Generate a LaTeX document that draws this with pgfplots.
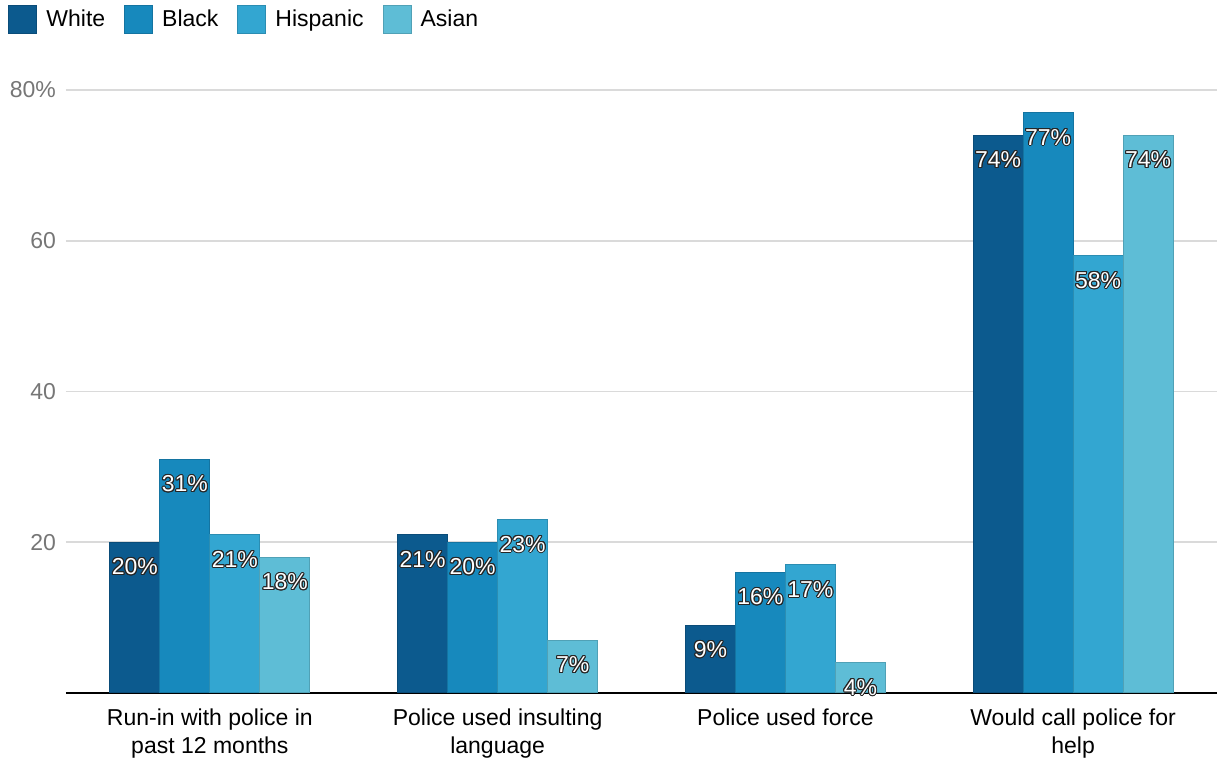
\documentclass[border=0pt]{standalone}
\usepackage{pgfplots}
\pgfplotsset{compat=1.18}
\usepackage{fontspec}
\setmainfont{Liberation Sans}
\usepackage{contour}
\contourlength{0.5pt}
\contournumber{16}

\definecolor{cWhite}{RGB}{12,90,142}
\definecolor{cBlack}{RGB}{23,137,189}
\definecolor{cHisp}{RGB}{51,166,209}
\definecolor{cAsian}{RGB}{94,189,214}
\definecolor{tickgray}{RGB}{118,118,118}
\definecolor{gridgray}{RGB}{218,218,218}

\newcommand{\chartfont}{\fontsize{11.5}{14}\selectfont}

\begin{document}
\begin{tikzpicture}
\begin{axis}[
  name=main,
  at={(0,0)}, anchor=south west,
  scale only axis,
  width=575.5pt, height=301.5pt,
  xmin=-0.5, xmax=3.5, ymin=0, ymax=80,
  ybar=0pt, bar width=25pt,
  clip=false,
  axis x line*=bottom, axis y line*=left,
  x axis line style={black, line width=0.9pt, -},
  y axis line style={draw=none},
  major tick length=0pt,
  ytick={20,40,60,80}, yticklabels={20,40,60,80\%},
  ymajorgrids, grid style={gridgray, line width=0.8pt},
  xtick={0,1,2,3},
  xticklabels={Run-in with police in\\past 12 months,
               Police used insulting\\language,
               Police used force,
               Would call police for\\help},
  xticklabel style={align=center, font=\chartfont, text=black, yshift=-4.5pt},
  yticklabel style={font=\chartfont, text=tickgray, xshift=-1.5pt},
  /pgf/number format/assume math mode=true,
  nodes near coords={\contour{black!85}{\pgfmathprintnumber{\pgfplotspointmeta}\%}},
  every node near coord/.append style={anchor=center, yshift=-12.5pt, text=white, font=\chartfont},
  legend columns=4,
  legend style={at={(0,1)}, anchor=north west, xshift=-29pt, yshift=42.5pt,
    draw=none, fill=none, inner sep=0pt, font=\chartfont,
    /tikz/every even column/.append style={column sep=7.5pt}},
  legend image code/.code={\draw[#1, line width=0.5pt] (0pt,-7pt) rectangle (14pt,7pt); \path (16.5pt,0pt);},
]
\addplot[fill=cWhite, draw=cWhite!85!black, line width=0.5pt]
  coordinates {(0,20) (1,21) (2,9) (3,74)};
\addplot[fill=cBlack, draw=cBlack!85!black, line width=0.5pt]
  coordinates {(0,31) (1,20) (2,16) (3,77)};
\addplot[fill=cHisp, draw=cHisp!85!black, line width=0.5pt]
  coordinates {(0,21) (1,23) (2,17) (3,58)};
\addplot[fill=cAsian, draw=cAsian!85!black, line width=0.5pt]
  coordinates {(0,18) (1,7) (2,4) (3,74)};
\legend{White, Black, Hispanic, Asian}
\end{axis}
\pgfresetboundingbox
\path ([xshift=-33pt,yshift=-34pt]main.south west) rectangle ([xshift=2pt,yshift=45pt]main.north east);
\end{tikzpicture}
\end{document}
